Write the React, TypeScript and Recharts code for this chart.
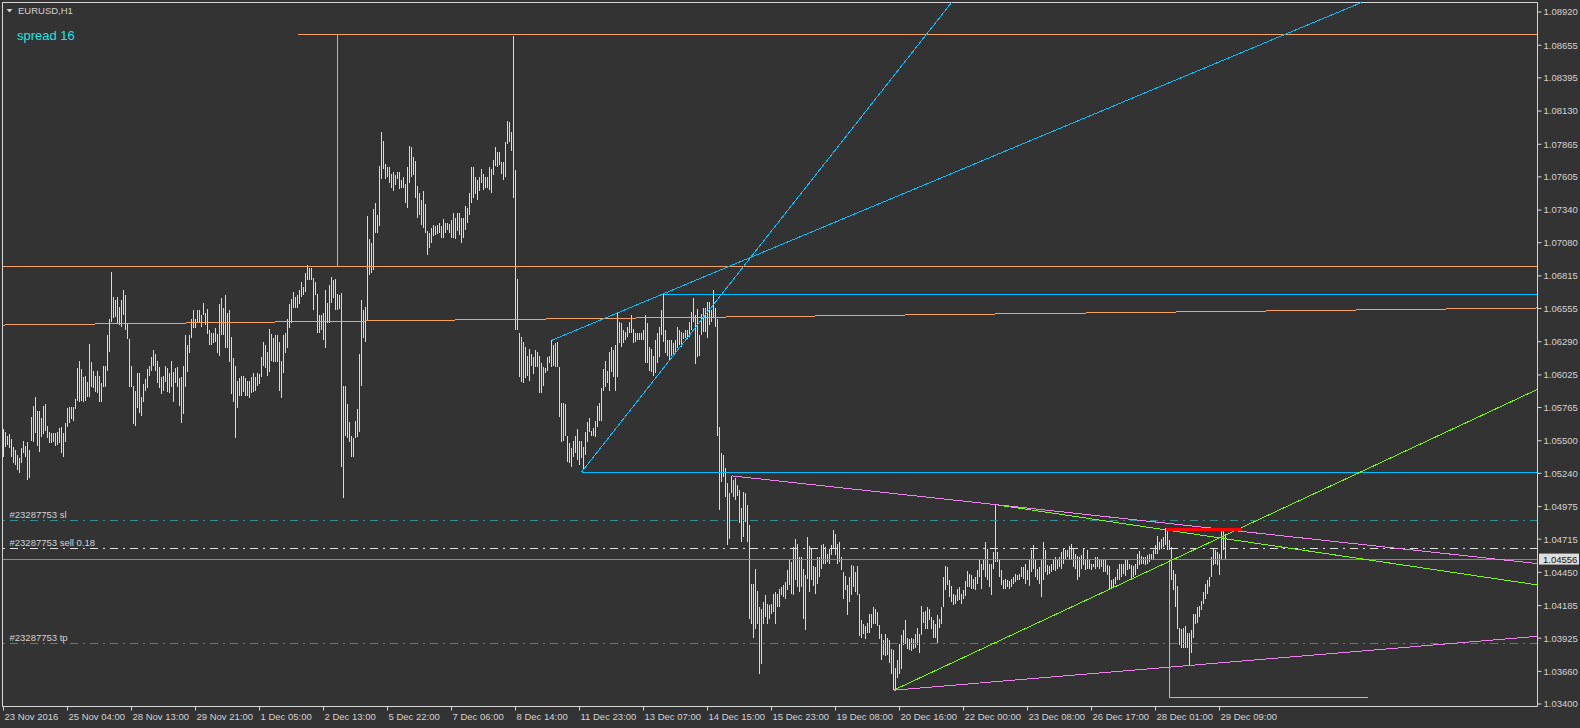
import React from 'react';
import { ComposedChart, Bar, XAxis, YAxis, ReferenceLine } from 'recharts';

// ---------- EURUSD H1 bars (index 0 = 23 Nov 20:00) ----------
const highs = [
  1.0559,1.0557,1.0554,1.0555,1.0551,1.0545,1.0543,1.0539,1.0536,1.0544,1.0550,1.0546,1.0549,1.0543,1.0569,1.0578,
  1.0585,1.0574,1.0574,1.0568,1.0578,1.0579,1.0562,1.0557,1.0556,1.0556,1.0556,1.0557,1.0560,1.0561,1.0556,1.0564,
  1.0576,1.0577,1.0577,1.0577,1.0583,1.0608,1.0614,1.0607,1.0601,1.0602,1.0597,1.0627,1.0613,1.0606,1.0602,1.0606,
  1.0602,1.0596,1.0610,1.0610,1.0634,1.0647,1.0685,1.0665,1.0662,1.0665,1.0657,1.0662,1.0670,1.0666,1.0644,1.0631,
  1.0610,1.0594,1.0590,1.0604,1.0604,1.0585,1.0595,1.0599,1.0607,1.0610,1.0617,1.0622,1.0619,1.0614,1.0609,1.0601,
  1.0602,1.0610,1.0608,1.0604,1.0614,1.0605,1.0608,1.0609,1.0600,1.0601,1.0610,1.0634,1.0626,1.0634,1.0647,1.0654,
  1.0647,1.0654,1.0654,1.0650,1.0660,1.0652,1.0655,1.0638,1.0636,1.0636,1.0640,1.0635,1.0659,1.0664,1.0656,1.0666,
  1.0652,1.0654,1.0633,1.0616,1.0610,1.0598,1.0600,1.0602,1.0602,1.0600,1.0598,1.0598,1.0601,1.0604,1.0601,1.0604,
  1.0603,1.0617,1.0629,1.0626,1.0621,1.0639,1.0635,1.0632,1.0634,1.0634,1.0629,1.0614,1.0634,1.0636,1.0647,1.0659,
  1.0663,1.0669,1.0665,1.0666,1.0670,1.0677,1.0673,1.0684,1.0690,1.0688,1.0688,1.0680,1.0677,1.0667,1.0650,1.0650,
  1.0652,1.0670,1.0660,1.0674,1.0681,1.0678,1.0679,1.0667,1.0666,1.0668,1.0594,1.0594,1.0579,1.0565,1.0554,1.0552,
  1.0566,1.0575,1.0619,1.0662,1.0654,1.0657,1.0729,1.0711,1.0708,1.0735,1.0740,1.0730,1.0769,1.0796,1.0789,1.0771,
  1.0768,1.0768,1.0763,1.0764,1.0762,1.0764,1.0764,1.0758,1.0760,1.0755,1.0768,1.0785,1.0784,1.0776,1.0773,1.0753,
  1.0748,1.0742,1.0749,1.0739,1.0717,1.0716,1.0720,1.0722,1.0721,1.0722,1.0724,1.0721,1.0727,1.0724,1.0724,1.0723,
  1.0726,1.0732,1.0728,1.0732,1.0732,1.0728,1.0728,1.0737,1.0736,1.0748,1.0768,1.0768,1.0760,1.0758,1.0760,1.0767,
  1.0763,1.0760,1.0760,1.0768,1.0767,1.0774,1.0784,1.0780,1.0780,1.0772,1.0772,1.0788,1.0805,1.0804,1.0796,1.0873,
  1.0766,1.0679,1.0636,1.0633,1.0629,1.0625,1.0618,1.0623,1.0619,1.0617,1.0622,1.0621,1.0618,1.0612,1.0609,1.0608,
  1.0617,1.0618,1.0630,1.0626,1.0628,1.0629,1.0609,1.0580,1.0580,1.0579,1.0554,1.0548,1.0544,1.0550,1.0554,1.0559,
  1.0550,1.0550,1.0545,1.0557,1.0565,1.0568,1.0558,1.0560,1.0566,1.0578,1.0580,1.0592,1.0607,1.0614,1.0606,1.0621,
  1.0625,1.0622,1.0626,1.0652,1.0645,1.0644,1.0638,1.0637,1.0641,1.0645,1.0650,1.0639,1.0636,1.0636,1.0636,1.0636,
  1.0638,1.0650,1.0644,1.0625,1.0623,1.0618,1.0630,1.0636,1.0641,1.0654,1.0667,1.0638,1.0630,1.0630,1.0630,1.0628,
  1.0630,1.0641,1.0638,1.0637,1.0636,1.0638,1.0638,1.0645,1.0653,1.0664,1.0650,1.0655,1.0634,1.0651,1.0656,1.0656,
  1.0661,1.0661,1.0654,1.0670,1.0656,1.0647,1.0561,1.0540,1.0539,1.0528,1.0516,1.0508,1.0522,1.0519,1.0520,1.0515,
  1.0511,1.0496,1.0509,1.0508,1.0499,1.0483,1.0436,1.0436,1.0448,1.0430,1.0417,1.0416,1.0421,1.0427,1.0420,1.0419,
  1.0420,1.0428,1.0429,1.0428,1.0432,1.0433,1.0435,1.0437,1.0447,1.0456,1.0453,1.0465,1.0472,1.0468,1.0457,1.0457,
  1.0448,1.0443,1.0473,1.0466,1.0464,1.0450,1.0449,1.0457,1.0457,1.0467,1.0468,1.0465,1.0460,1.0464,1.0467,1.0479,
  1.0476,1.0468,1.0469,1.0457,1.0445,1.0442,1.0435,1.0441,1.0451,1.0450,1.0445,1.0450,1.0428,1.0407,1.0404,1.0402,
  1.0405,1.0412,1.0412,1.0417,1.0416,1.0413,1.0403,1.0396,1.0391,1.0396,1.0393,1.0391,1.0384,1.0383,1.0369,1.0375,
  1.0388,1.0395,1.0399,1.0407,1.0393,1.0392,1.0393,1.0392,1.0396,1.0401,1.0396,1.0418,1.0413,1.0414,1.0417,1.0416,
  1.0409,1.0407,1.0404,1.0411,1.0408,1.0417,1.0441,1.0450,1.0449,1.0439,1.0434,1.0428,1.0427,1.0432,1.0433,1.0428,
  1.0431,1.0438,1.0446,1.0444,1.0443,1.0440,1.0441,1.0447,1.0455,1.0452,1.0456,1.0469,1.0464,1.0452,1.0452,1.0461,
  1.0499,1.0461,1.0455,1.0447,1.0439,1.0440,1.0439,1.0438,1.0440,1.0441,1.0444,1.0443,1.0444,1.0449,1.0449,1.0452,
  1.0447,1.0455,1.0463,1.0467,1.0455,1.0448,1.0449,1.0455,1.0469,1.0463,1.0451,1.0450,1.0452,1.0455,1.0457,1.0456,
  1.0457,1.0461,1.0464,1.0463,1.0463,1.0466,1.0468,1.0464,1.0460,1.0458,1.0457,1.0459,1.0464,1.0456,1.0463,1.0456,
  1.0452,1.0452,1.0457,1.0457,1.0456,1.0456,1.0456,1.0456,1.0451,1.0450,1.0439,1.0440,1.0441,1.0448,1.0452,1.0452,
  1.0452,1.0455,1.0456,1.0452,1.0451,1.0450,1.0452,1.0460,1.0462,1.0458,1.0457,1.0457,1.0459,1.0460,1.0460,1.0463,
  1.0467,1.0474,1.0469,1.0472,1.0473,1.0480,1.0480,1.0471,1.0465,1.0447,1.0444,1.0434,1.0401,1.0400,1.0401,1.0402,
  1.0397,1.0397,1.0399,1.0412,1.0412,1.0417,1.0418,1.0422,1.0429,1.0436,1.0439,1.0441,1.0457,1.0464,1.0463,1.0461,
  1.0460,1.0480,1.0479,1.0476,
];

const lows = [
  1.0537,1.0545,1.0547,1.0544,1.0537,1.0532,1.0531,1.0527,1.0524,1.0532,1.0540,1.0537,1.0519,1.0520,1.0550,1.0549,
  1.0556,1.0546,1.0541,1.0553,1.0555,1.0558,1.0552,1.0548,1.0548,1.0549,1.0546,1.0547,1.0548,1.0540,1.0537,1.0549,
  1.0561,1.0564,1.0567,1.0566,1.0575,1.0582,1.0581,1.0582,1.0581,1.0582,1.0585,1.0585,1.0593,1.0592,1.0589,1.0588,
  1.0581,1.0581,1.0593,1.0593,1.0606,1.0621,1.0645,1.0648,1.0649,1.0644,1.0642,1.0641,1.0650,1.0638,1.0631,1.0593,
  1.0593,1.0563,1.0562,1.0576,1.0572,1.0570,1.0581,1.0590,1.0592,1.0602,1.0606,1.0610,1.0606,1.0596,1.0592,1.0587,
  1.0590,1.0597,1.0589,1.0588,1.0593,1.0581,1.0596,1.0593,1.0578,1.0564,1.0571,1.0593,1.0605,1.0620,1.0632,1.0640,
  1.0640,1.0644,1.0645,1.0641,1.0650,1.0642,1.0635,1.0626,1.0626,1.0628,1.0629,1.0620,1.0618,1.0634,1.0634,1.0624,
  1.0624,1.0613,1.0587,1.0581,1.0552,1.0576,1.0586,1.0586,1.0589,1.0586,1.0586,1.0584,1.0588,1.0589,1.0590,1.0594,
  1.0595,1.0601,1.0610,1.0608,1.0602,1.0605,1.0614,1.0613,1.0613,1.0613,1.0590,1.0584,1.0604,1.0620,1.0624,1.0640,
  1.0644,1.0656,1.0656,1.0656,1.0659,1.0665,1.0666,1.0669,1.0678,1.0678,1.0678,1.0654,1.0666,1.0636,1.0636,1.0638,
  1.0630,1.0624,1.0644,1.0644,1.0660,1.0664,1.0654,1.0654,1.0655,1.0529,1.0504,1.0554,1.0552,1.0549,1.0537,1.0537,
  1.0552,1.0553,1.0557,1.0594,1.0632,1.0629,1.0646,1.0682,1.0684,1.0686,1.0716,1.0716,1.0721,1.0759,1.0767,1.0759,
  1.0760,1.0756,1.0752,1.0749,1.0754,1.0759,1.0751,1.0752,1.0752,1.0740,1.0736,1.0756,1.0760,1.0762,1.0744,1.0728,
  1.0730,1.0722,1.0720,1.0716,1.0698,1.0704,1.0708,1.0713,1.0714,1.0715,1.0716,1.0712,1.0712,1.0716,1.0718,1.0716,
  1.0712,1.0712,1.0711,1.0717,1.0714,1.0708,1.0712,1.0718,1.0724,1.0730,1.0740,1.0744,1.0747,1.0742,1.0749,1.0756,
  1.0750,1.0752,1.0752,1.0750,1.0748,1.0762,1.0769,1.0768,1.0770,1.0763,1.0758,1.0760,1.0787,1.0788,1.0781,1.0744,
  1.0638,1.0638,1.0601,1.0597,1.0596,1.0600,1.0602,1.0598,1.0610,1.0603,1.0609,1.0609,1.0588,1.0588,1.0594,1.0604,
  1.0606,1.0612,1.0609,1.0610,1.0609,1.0609,1.0569,1.0549,1.0550,1.0554,1.0533,1.0532,1.0529,1.0537,1.0540,1.0535,
  1.0531,1.0536,1.0527,1.0539,1.0549,1.0557,1.0554,1.0554,1.0553,1.0561,1.0566,1.0566,1.0590,1.0593,1.0596,1.0590,
  1.0605,1.0601,1.0590,1.0601,1.0628,1.0625,1.0628,1.0630,1.0633,1.0636,1.0636,1.0628,1.0629,1.0630,1.0630,1.0630,
  1.0630,1.0612,1.0612,1.0606,1.0605,1.0602,1.0604,1.0612,1.0617,1.0634,1.0629,1.0620,1.0618,1.0614,1.0618,1.0618,
  1.0621,1.0624,1.0626,1.0625,1.0631,1.0632,1.0631,1.0633,1.0638,1.0645,1.0611,1.0617,1.0618,1.0634,1.0637,1.0637,
  1.0632,1.0642,1.0645,1.0649,1.0641,1.0554,1.0495,1.0517,1.0521,1.0505,1.0467,1.0472,1.0508,1.0505,1.0503,1.0506,
  1.0484,1.0469,1.0473,1.0485,1.0469,1.0408,1.0404,1.0393,1.0400,1.0404,1.0364,1.0372,1.0404,1.0409,1.0404,1.0408,
  1.0412,1.0413,1.0404,1.0417,1.0417,1.0427,1.0425,1.0424,1.0431,1.0435,1.0428,1.0427,1.0439,1.0433,1.0429,1.0433,
  1.0408,1.0399,1.0440,1.0429,1.0439,1.0434,1.0428,1.0436,1.0441,1.0448,1.0452,1.0452,1.0453,1.0452,1.0459,1.0464,
  1.0459,1.0452,1.0453,1.0447,1.0424,1.0431,1.0411,1.0421,1.0427,1.0433,1.0429,1.0427,1.0394,1.0393,1.0396,1.0392,
  1.0397,1.0397,1.0401,1.0404,1.0404,1.0402,1.0392,1.0375,1.0379,1.0378,1.0379,1.0373,1.0364,1.0351,1.0352,1.0361,
  1.0364,1.0368,1.0387,1.0388,1.0384,1.0383,1.0382,1.0384,1.0385,1.0387,1.0381,1.0395,1.0405,1.0400,1.0400,1.0407,
  1.0400,1.0393,1.0393,1.0388,1.0401,1.0404,1.0417,1.0431,1.0435,1.0425,1.0421,1.0419,1.0420,1.0422,1.0423,1.0420,
  1.0424,1.0426,1.0433,1.0433,1.0432,1.0432,1.0431,1.0436,1.0441,1.0432,1.0447,1.0441,1.0439,1.0433,1.0427,1.0448,
  1.0453,1.0453,1.0441,1.0435,1.0432,1.0432,1.0433,1.0432,1.0433,1.0436,1.0437,1.0439,1.0439,1.0441,1.0440,1.0436,
  1.0439,1.0434,1.0445,1.0448,1.0441,1.0439,1.0436,1.0425,1.0439,1.0445,1.0443,1.0444,1.0445,1.0447,1.0446,1.0448,
  1.0449,1.0448,1.0452,1.0455,1.0457,1.0456,1.0455,1.0449,1.0448,1.0439,1.0441,1.0448,1.0451,1.0447,1.0448,1.0448,
  1.0447,1.0449,1.0448,1.0449,1.0448,1.0449,1.0445,1.0445,1.0443,1.0432,1.0432,1.0433,1.0436,1.0439,1.0439,1.0441,
  1.0444,1.0442,1.0447,1.0448,1.0440,1.0441,1.0443,1.0448,1.0451,1.0452,1.0452,1.0451,1.0452,1.0453,1.0455,1.0456,
  1.0460,1.0460,1.0463,1.0464,1.0465,1.0467,1.0463,1.0463,1.0439,1.0431,1.0417,1.0400,1.0387,1.0385,1.0385,1.0385,
  1.0385,1.0371,1.0381,1.0393,1.0404,1.0405,1.0409,1.0415,1.0420,1.0424,1.0428,1.0433,1.0441,1.0451,1.0452,1.0451,
  1.0443,1.0455,1.0463,1.0455,
];

// ---------- axes ----------
const timeTickIndex = [0, 32, 64, 96, 128, 160, 192, 224, 256, 288, 320, 352, 384, 416, 448, 480, 512, 544, 576, 608];
const timeLabels = [
  '23 Nov 2016', '25 Nov 04:00', '28 Nov 13:00', '29 Nov 21:00', '1 Dec 05:00', '2 Dec 13:00',
  '5 Dec 22:00', '7 Dec 06:00', '8 Dec 14:00', '11 Dec 23:00', '13 Dec 07:00', '14 Dec 15:00',
  '15 Dec 23:00', '19 Dec 08:00', '20 Dec 16:00', '22 Dec 00:00', '23 Dec 08:00', '26 Dec 17:00',
  '28 Dec 01:00', '29 Dec 09:00',
];
const priceTicks = [
  1.0892, 1.08655, 1.08395, 1.0813, 1.07865, 1.07605, 1.0734, 1.0708, 1.06815, 1.06555, 1.0629,
  1.06025, 1.05765, 1.055, 1.0524, 1.04975, 1.04715, 1.0445, 1.04185, 1.03925, 1.0366, 1.034,
];

// ---------- order levels ----------
const bidPrice = 1.04556;
const orderLevels = [
  { label: '#23287753 sl', price: 1.0486 },
  { label: '#23287753 sell 0.18', price: 1.0464 },
  { label: '#23287753 tp', price: 1.0388 },
];

// ---------- drawn objects: [barIndex, price] anchors ----------
type Pt = [number, number];
const orangeSegments: [Pt, Pt][] = [
  [[147, 1.0874], [767, 1.0874]],
  [[167, 1.0874], [167, 1.0689]],
  [[-0.5, 1.0689], [767, 1.0689]],
  [[-0.5, 1.06423], [767, 1.06559]],
];
const blueSegments: [Pt, Pt][] = [
  [[274, 1.063], [679, 1.08996]],
  [[289, 1.0525], [474, 1.08996]],
  [[330, 1.0667], [767, 1.0667]],
  [[289, 1.0525], [767, 1.0525]],
];
const greenSegments: [Pt, Pt][] = [
  [[445, 1.0351], [767, 1.0591]],
  [[496, 1.0499], [767, 1.0435]],
  [[583, 1.0455], [583, 1.0345]],
  [[583, 1.0345], [682, 1.0345]],
];
const violetSegments: [Pt, Pt][] = [
  [[364, 1.0522], [767, 1.0452]],
  [[445, 1.0351], [767, 1.0394]],
];
const redSegments: [Pt, Pt][] = [
  [[581, 1.0479], [619, 1.0479]],
];

const X_DOMAIN: [number, number] = [-0.5, 767];
const Y_DOMAIN: [number, number] = [1.0338, 1.08996];

const BG = '#333333';
const FRAME = '#d6d6d6';
const TEXT = '#d2d2d2';
const BAR = '#dadada';
const FONT = '"Liberation Sans", Arial, sans-serif';
const FS = 9.5;

const bars = highs.map((h, i) => ({ i, range: [lows[i] ?? h, h] }));

function BarShape(props: any) {
  const { x, y, width, height } = props;
  if (x == null || y == null || isNaN(x) || isNaN(y)) return null;
  const cx = x + (width || 0) / 2;
  const top = Math.min(y, y + height);
  const h = Math.max(Math.abs(height), 1);
  return <rect x={Math.round(cx - 0.5)} y={top} width={1} height={h} fill={BAR} shapeRendering="crispEdges" />;
}

function TimeTick(props: any) {
  const { x, y, payload } = props;
  const k = timeTickIndex.indexOf(payload.value);
  return (
    <text x={x + 1} y={y} dy="0.71em" fill={TEXT} fontSize={FS} fontFamily={FONT} textAnchor="start">
      {timeLabels[k]}
    </text>
  );
}

const seg = (s: [Pt, Pt], color: string, key: string, width = 1) => (
  <ReferenceLine
    key={key}
    segment={[{ x: s[0][0], y: s[0][1] }, { x: s[1][0], y: s[1][1] }]}
    stroke={color}
    strokeWidth={width}
    ifOverflow="visible"
    shapeRendering="crispEdges"
  />
);

const orderLabel = (text: string) => (p: any) => {
  const vb = p && p.viewBox ? p.viewBox : { x: 0, y: 0 };
  return (
    <text x={vb.x + 7} y={vb.y - 3} fill={TEXT} fontSize={FS} fontFamily={FONT}>
      {text}
    </text>
  );
};

const bidLabel = (p: any) => {
  const vb = p && p.viewBox ? p.viewBox : { x: 0, y: 0, width: 0 };
  const xr = vb.x + (vb.width || 0);
  return (
    <g>
      <rect x={xr + 1.5} y={vb.y - 5.5} width={40} height={11} fill="#dedede" />
      <text x={xr + 5.5} y={vb.y + 3.5} fill="#111111" fontSize={FS} fontFamily={FONT}>
        {bidPrice.toFixed(5)}
      </text>
    </g>
  );
};

export default function App() {
  return (
    <div style={{ position: 'absolute', left: 0, top: 0, width: 1580, height: 728, background: BG, overflow: 'hidden' }}>
      <ComposedChart
        width={1580}
        height={728}
        data={bars}
        margin={{ top: 2.5, left: 2.5, right: 0, bottom: 0 }}
      >
        <XAxis
          type="number"
          dataKey="i"
          domain={X_DOMAIN}
          ticks={timeTickIndex}
          interval={0}
          allowDataOverflow
          height={21.5}
          tickSize={4}
          tickMargin={3}
          axisLine={{ stroke: FRAME }}
          tickLine={{ stroke: FRAME }}
          tick={<TimeTick />}
        />
        <YAxis
          type="number"
          orientation="right"
          domain={Y_DOMAIN}
          ticks={priceTicks}
          interval={0}
          allowDataOverflow
          width={42.5}
          tickSize={4}
          tickMargin={2}
          axisLine={{ stroke: FRAME }}
          tickLine={{ stroke: FRAME }}
          tick={{ fill: TEXT, fontSize: FS, fontFamily: FONT }}
          tickFormatter={(v: number) => v.toFixed(5)}
        />
        <ReferenceLine y={Y_DOMAIN[1]} stroke={FRAME} ifOverflow="visible" />
        <ReferenceLine x={X_DOMAIN[0]} stroke={FRAME} ifOverflow="visible" />
        <Bar dataKey="range" barSize={1} shape={BarShape} isAnimationActive={false} />
        {orderLevels.map((o, k) => (
          <ReferenceLine
            key={'ord' + k}
            y={o.price}
            stroke={k === 1 ? '#e2e2e2' : '#2f8f8f'}
            strokeDasharray="8 5 2 5"
            ifOverflow="visible"
            shapeRendering="crispEdges"
            label={orderLabel(o.label)}
          />
        ))}
        <ReferenceLine y={bidPrice} stroke="#8a8a8a" ifOverflow="visible" shapeRendering="crispEdges" label={bidLabel} />
        {orangeSegments.map((s, k) => seg(s, '#F4A460', 'or' + k))}
        {blueSegments.map((s, k) => seg(s, '#00BFFF', 'bl' + k))}
        {greenSegments.map((s, k) => seg(s, '#7CFC00', 'gr' + k))}
        {violetSegments.map((s, k) => seg(s, '#EE82EE', 'vi' + k))}
        {redSegments.map((s, k) => seg(s, '#FF0000', 'rd' + k, 2.5))}
      </ComposedChart>
      <svg width={1580} height={728} style={{ position: 'absolute', left: 0, top: 0, pointerEvents: 'none' }}>
        <polygon points="6.5,9 12.5,9 9.5,12.5" fill={TEXT} />
        <text x={18} y={14} fill={TEXT} fontSize={FS} fontFamily={FONT}>EURUSD,H1</text>
        <text x={17} y={39.5} fill="#16e6e6" fontSize={13} fontFamily={FONT}>spread 16</text>
      </svg>
    </div>
  );
}
